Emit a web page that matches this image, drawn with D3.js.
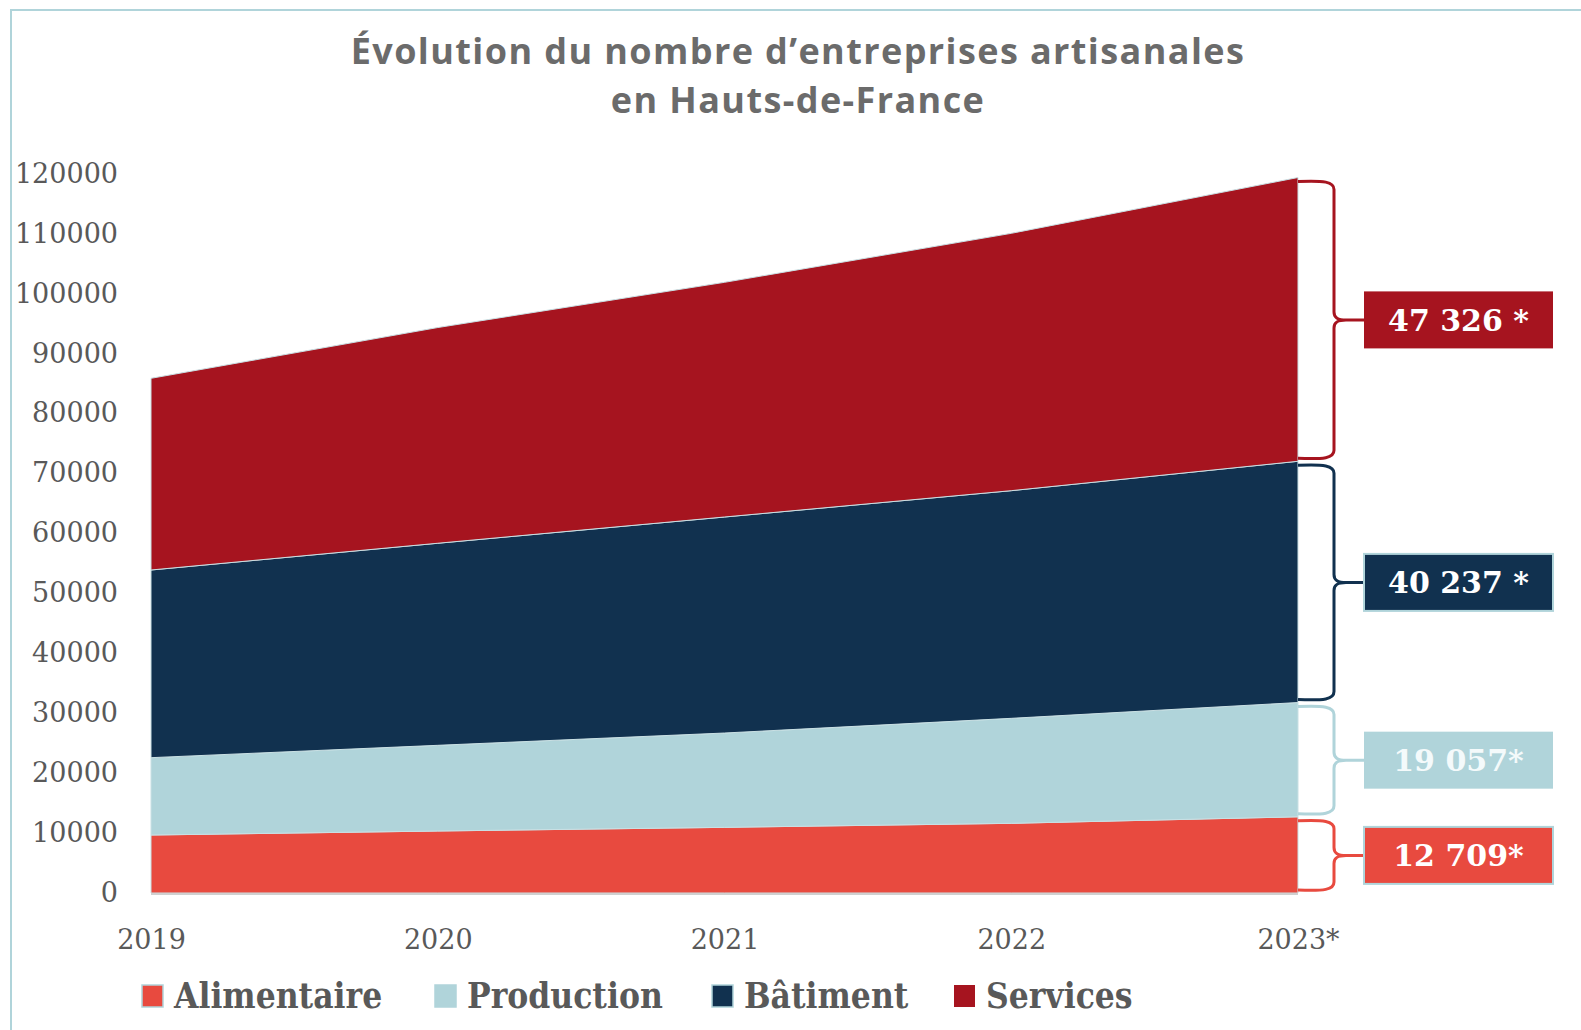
<!DOCTYPE html>
<html>
<head>
<meta charset="utf-8">
<script src="https://cdn.jsdelivr.net/npm/d3@7"></script>
<style>
  body { margin: 0; background: #fff; }
  svg { display: block; }
</style>
</head>
<body>
<div id="chart"></div>
<script>
// data
var years = ["2019", "2020", "2021", "2022", "2023*"];
var alimentaire = [9670, 10340, 10950, 11620, 12709];
var production = [12900, 14290, 15730, 17510, 19057];
var batiment = [31300, 33700, 36030, 37970, 40237];
var services = [31970, 35980, 39140, 42920, 47326];
var seriesNames = ["Alimentaire", "Production", "Bâtiment", "Services"];
var lastLabels = ["12 709*", "19 057*", "40 237 *", "47 326 *"];
var yTicks = [0, 10000, 20000, 30000, 40000, 50000, 60000, 70000, 80000, 90000, 100000, 110000, 120000];

var colors = ["#e84a3f", "#b0d4da", "#11314f", "#a6141f"];
var W = 1581, H = 1030;

var rows = years.map(function(y, i) {
    return { year: y, Alimentaire: alimentaire[i], Production: production[i], "Bâtiment": batiment[i], Services: services[i] };
});

var svg = d3.select("#chart").append("svg")
    .attr("width", W)
    .attr("height", H);

// frame
svg.append("rect")
    .attr("x", 11).attr("y", 10)
    .attr("width", W + 20).attr("height", H + 20)
    .attr("fill", "none")
    .attr("stroke", "#b0d4da")
    .attr("stroke-width", 2);

// title
var titleLines = ["Évolution du nombre d’entreprises artisanales", "en Hauts-de-France"];
svg.selectAll("text.title")
    .data(titleLines)
    .enter()
    .append("text")
    .attr("class", "title")
    .attr("x", 798)
    .attr("y", function(d, i) { return 64 + i * 49; })
    .attr("text-anchor", "middle")
    .attr("font-family", "'Open Sans', sans-serif")
    .attr("font-weight", "bold")
    .attr("font-size", "36px")
    .attr("letter-spacing", "1.4px")
    .attr("fill", "#6b6b6b")
    .text(function(d) { return d; });

var x = d3.scalePoint().domain(years).range([151, 1298]);
var y = d3.scaleLinear().domain([0, 120000]).range([893, 173.5]);

var stack = d3.stack().keys(seriesNames);
var layers = stack(rows);

var area = d3.area()
    .x(function(d) { return x(d.data.year); })
    .y0(function(d) { return y(d[0]); })
    .y1(function(d) { return y(d[1]); });

svg.selectAll("path.layer")
    .data(layers)
    .enter()
    .append("path")
    .attr("class", "layer")
    .attr("d", area)
    .attr("fill", function(d, i) { return colors[i]; })
    .attr("stroke", "#c9e0e4")
    .attr("stroke-width", 1);

// baseline
svg.append("line")
    .attr("x1", x(years[0])).attr("x2", x(years[4]))
    .attr("y1", y(0) + 1).attr("y2", y(0) + 1)
    .attr("stroke", "#d0d0d0")
    .attr("stroke-width", 2);

// axes
var yAxis = svg.append("g")
    .attr("transform", "translate(" + x(years[0]) + ",0)")
    .call(d3.axisLeft(y).tickValues(yTicks).tickSize(0).tickPadding(33).tickFormat(d3.format("d")));
yAxis.select(".domain").remove();
yAxis.selectAll("text")
    .attr("font-family", "'DejaVu Serif', serif")
    .attr("font-size", "27px")
    .attr("fill", "#595959");

var xAxis = svg.append("g")
    .attr("transform", "translate(0," + y(0) + ")")
    .call(d3.axisBottom(x).tickSize(0).tickPadding(37));
xAxis.select(".domain").remove();
xAxis.selectAll("text")
    .attr("font-family", "'DejaVu Serif', serif")
    .attr("font-size", "27px")
    .attr("fill", "#595959");

// braces + value boxes for 2023
var last = years.length - 1;
var x0 = x(years[last]);
var xv = x0 + 36;
var boxX = 1364, boxW = 189, boxH = 57;

var braces = layers.map(function(L, i) {
    var top = y(L[last][1]) + 4, bottom = y(L[last][0]) - 3;
    return { i: i, top: top, bottom: bottom, mid: (top + bottom) / 2 };
});

svg.selectAll("path.brace")
    .data(braces)
    .enter()
    .append("path")
    .attr("class", "brace")
    .attr("d", function(b) {
        return "M" + x0 + "," + (b.top) +
            " C" + (xv - 10) + "," + (b.top - 1) + " " + xv + "," + b.top + " " + xv + "," + (b.top + 8) +
            " L" + xv + "," + (b.mid - 8) +
            " C" + xv + "," + (b.mid - 2) + " " + (xv + 4) + "," + b.mid + " " + (xv + 12) + "," + b.mid +
            " L" + boxX + "," + b.mid +
            " M" + (xv + 12) + "," + b.mid +
            " C" + (xv + 4) + "," + b.mid + " " + xv + "," + (b.mid + 2) + " " + xv + "," + (b.mid + 8) +
            " L" + xv + "," + (b.bottom - 8) +
            " C" + xv + "," + b.bottom + " " + (xv - 10) + "," + (b.bottom + 1) + " " + x0 + "," + b.bottom;
    })
    .attr("fill", "none")
    .attr("stroke", function(b) { return colors[b.i]; })
    .attr("stroke-width", 3);

svg.selectAll("rect.vbox")
    .data(braces)
    .enter()
    .append("rect")
    .attr("class", "vbox")
    .attr("x", boxX)
    .attr("y", function(b) { return b.mid - boxH / 2; })
    .attr("width", boxW)
    .attr("height", boxH)
    .attr("fill", function(b) { return colors[b.i]; })
    .attr("stroke", function(b) { return b.i == 0 || b.i == 2 ? "#b0d4da" : "none"; })
    .attr("stroke-width", 2);

svg.selectAll("text.vlabel")
    .data(braces)
    .enter()
    .append("text")
    .attr("class", "vlabel")
    .attr("x", boxX + boxW / 2)
    .attr("y", function(b) { return b.mid + 11; })
    .attr("text-anchor", "middle")
    .attr("font-family", "'DejaVu Serif', serif")
    .attr("font-weight", "bold")
    .attr("font-size", "30px")
    .attr("fill", function(b) { return b.i == 1 ? "#f4fafb" : "#fff"; })
    .text(function(b) { return lastLabels[b.i]; });

// legend
var legendX = [142, 435, 712, 954];
var legend = svg.selectAll("g.leg")
    .data(seriesNames)
    .enter()
    .append("g")
    .attr("class", "leg")
    .attr("transform", function(d, i) { return "translate(" + legendX[i] + ",985)"; });

legend.append("rect")
    .attr("width", 21).attr("height", 22)
    .attr("fill", function(d, i) { return colors[i]; })
    .attr("stroke", function(d, i) { return i == 3 ? "none" : "#b0d4da"; })
    .attr("stroke-width", 1.5);

legend.append("text")
    .attr("x", 32).attr("y", 23)
    .attr("font-family", "'DejaVu Serif Condensed', 'DejaVu Serif', serif")
    .attr("font-stretch", "condensed")
    .attr("font-weight", "bold")
    .attr("font-size", "35px")
    .attr("fill", "#595959")
    .text(function(d) { return d; });
</script>
</body>
</html>
